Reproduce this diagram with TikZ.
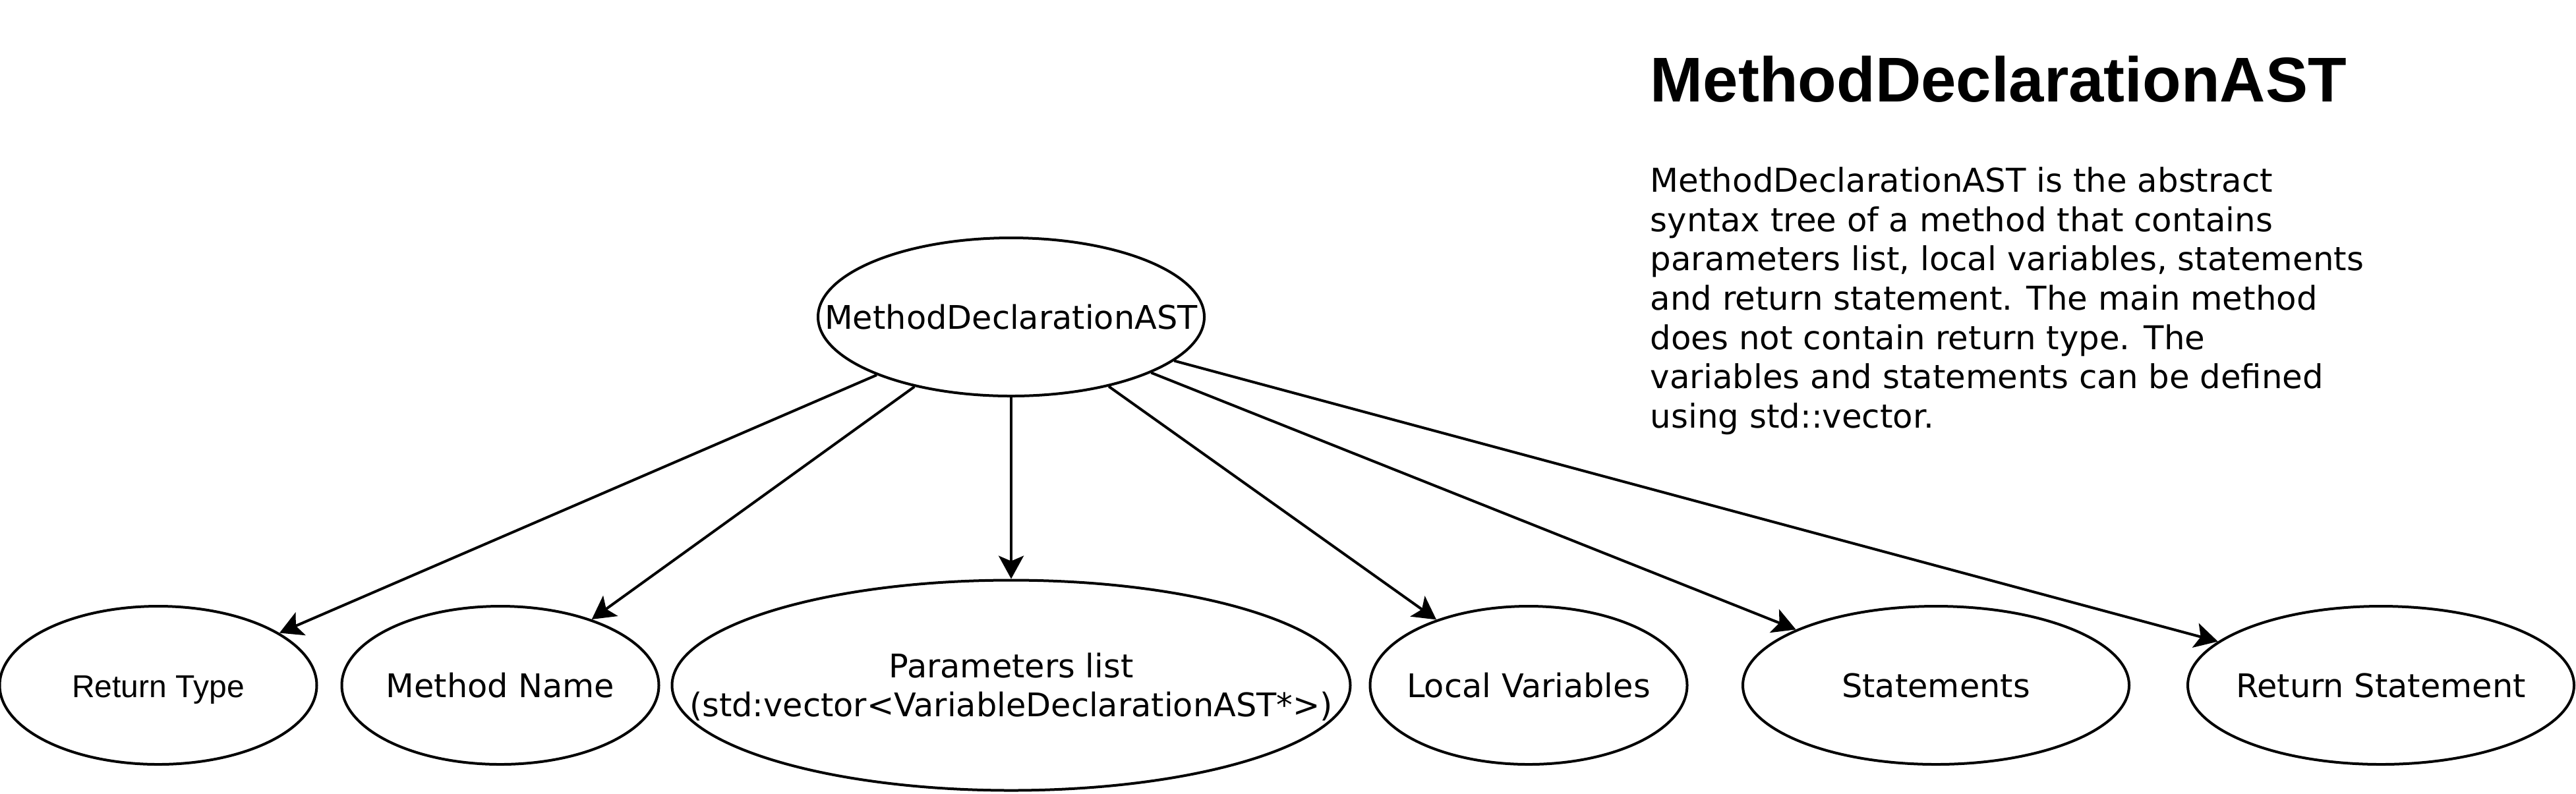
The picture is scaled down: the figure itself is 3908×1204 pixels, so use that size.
\documentclass[tikz,border=0pt]{standalone}
\usepackage{fontspec}
\setmainfont{DejaVu Sans}
\newfontfamily\arialfont{Liberation Sans}
\usetikzlibrary{arrows.meta,shapes.geometric}
\newcommand{\inbox}[1]{\makebox[0pt]{#1}}

\begin{document}
\begin{tikzpicture}[x=0.25pt, y=-0.25pt,
	every node/.style={font=\fontsize{12.35}{14.9}\selectfont},
	>={Stealth[length=8.75pt, width=9.5pt, inset=2pt]},
	oval/.style={ellipse, draw, line width=1pt, inner sep=0pt, minimum height=60pt,
		text height=9pt, text depth=0pt}]
	\useasboundingbox (0,0) rectangle (3908,1204);
	% root of the tree
	\node[oval, minimum width=146.5pt] (root) at (1534,481) {\inbox{MethodDeclarationAST}};
	% children
	\node[oval, minimum width=120.25pt, font=\arialfont\fontsize{12}{14.9}\selectfont] (rtype) at (240,1040) {\inbox{Return Type}};
	\node[oval, minimum width=120.25pt] (mname) at (759,1040) {\inbox{Method Name}};
	\node[oval, minimum width=257.25pt, minimum height=79.75pt, text depth=14.9pt] (params) at (1534,1040)
		{\inbox{\begin{tabular}[t]{@{}c@{}}Parameters list\\(std:vector<VariableDeclarationAST*>)\end{tabular}}};
	\node[oval, minimum width=120.25pt] (locals) at (2319,1040) {\inbox{Local Variables}};
	\node[oval, minimum width=146.5pt] (stmts) at (2937,1040) {\inbox{Statements}};
	\node[oval, minimum width=146.5pt] (rstmt) at (3612,1040) {\inbox{Return Statement}};
	\foreach \leaf in {rtype,mname,params,locals,stmts,rstmt}
		\draw[->, line width=1pt] (root) -- (\leaf);
	% description
	\node[anchor=base west, inner sep=0pt, font=\arialfont\bfseries\fontsize{24}{28}\selectfont] (title) at (2503,154) {MethodDeclarationAST};
	\node[anchor=north west, align=left, inner sep=0pt, font=\fontsize{12.45}{14.9}\selectfont] (desc) at (2503,253) {MethodDeclarationAST is the abstract\\
		syntax tree of a method that contains\\
		parameters list, local variables, statements\\
		and return statement. The main method\\
		does not contain return type. The\\
		variables and statements can be defined\\
		using std::vector.};
\end{tikzpicture}
\end{document}
